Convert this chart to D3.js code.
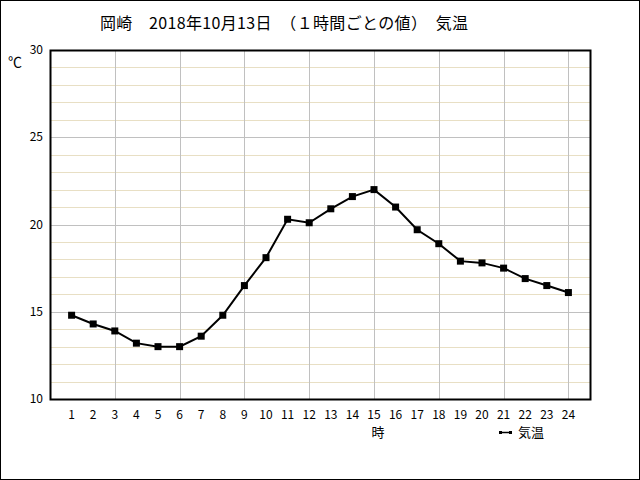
<!DOCTYPE html>
<html>
<head>
<meta charset="utf-8">
<script src="https://cdn.jsdelivr.net/npm/d3@7"></script>
<style>
body { margin: 0; background: #fff; }
svg text { font-family: "Noto Sans CJK JP", "DejaVu Sans", sans-serif; fill: #000; }
</style>
</head>
<body>
<svg id="chart" width="640" height="480"></svg>
<script>
// hourly temperature, Okazaki 2018-10-13
var hours = [1,2,3,4,5,6,7,8,9,10,11,12,13,14,15,16,17,18,19,20,21,22,23,24];
var temps = [14.8,14.3,13.9,13.2,13.0,13.0,13.6,14.8,16.5,18.1,20.3,20.1,20.9,21.6,22.0,21.0,19.7,18.9,17.9,17.8,17.5,16.9,16.5,16.1];
var yTicks = [10,15,20,25,30];
var titleText = "岡崎　2018年10月13日　（１時間ごとの値）　気温";

var margin = {top: 50, right: 50, bottom: 81, left: 50},
    width = 640 - margin.left - margin.right,
    height = 480 - margin.top - margin.bottom;

var svg = d3.select("svg#chart");

// outer frame
svg.append("rect").attr("x",0.5).attr("y",0.5).attr("width",639).attr("height",479)
   .attr("fill","#fff").attr("stroke","#000").attr("stroke-width",1);

var x = d3.scaleLinear().domain([0, 25]).range([margin.left, margin.left + width]);
var y = d3.scaleLinear().domain([10, 30]).range([margin.top + height, margin.top]);

var g = svg.append("g");

// minor horizontal grid (every 1 deg)
g.selectAll("line.minor").data(d3.range(11, 30).filter(function(d){ return d % 5 != 0; }))
  .enter().append("line").attr("class","minor")
  .attr("x1", x(0)).attr("x2", x(25))
  .attr("y1", function(d){ return Math.round(y(d)) + 0.5; })
  .attr("y2", function(d){ return Math.round(y(d)) + 0.5; })
  .attr("stroke","#e8dfc4").attr("stroke-width",1);

// major horizontal grid
g.selectAll("line.major").data([15,20,25])
  .enter().append("line").attr("class","major")
  .attr("x1", x(0)).attr("x2", x(25))
  .attr("y1", function(d){ return Math.round(y(d)) + 0.5; })
  .attr("y2", function(d){ return Math.round(y(d)) + 0.5; })
  .attr("stroke","#c0c0c0").attr("stroke-width",1);

// vertical grid every 3 hours
g.selectAll("line.vgrid").data(hours.filter(function(d){ return d % 3 == 0; }))
  .enter().append("line").attr("class","vgrid")
  .attr("x1", function(d){ return Math.round(x(d)) + 0.5; })
  .attr("x2", function(d){ return Math.round(x(d)) + 0.5; })
  .attr("y1", y(30)).attr("y2", y(10))
  .attr("stroke","#c0c0c0").attr("stroke-width",1);

// plot frame
g.append("rect").attr("x", x(0) + 0.5).attr("y", y(30) + 0.5)
  .attr("width", width).attr("height", height)
  .attr("fill","none").attr("stroke","#000").attr("stroke-width",2);

// y labels
svg.selectAll("text.ytick").data(yTicks).enter().append("text")
  .attr("class","ytick")
  .attr("x", 43).attr("y", function(d){ return y(d) + 4; })
  .attr("text-anchor","end").attr("font-size", 12)
  .text(function(d){ return d; });

// x labels
svg.selectAll("text.xtick").data(hours).enter().append("text")
  .attr("class","xtick")
  .attr("x", function(d){ return x(d); }).attr("y", 419)
  .attr("text-anchor","middle").attr("font-size", 12)
  .text(function(d){ return d; });

// units
svg.append("text").attr("x", 15).attr("y", 67).attr("text-anchor","middle")
  .attr("font-size", 14).text("℃");
svg.append("text").attr("x", x(15) + 4).attr("y", 437).attr("text-anchor","middle")
  .attr("font-size", 13).text("時");

// title
svg.append("text").attr("x", 100).attr("y", 29).attr("font-size", 16)
  .attr("textLength", 368).attr("lengthAdjust", "spacing")
  .text(titleText);

// line + markers
var line = d3.line().x(function(d, i){ return x(hours[i]); }).y(function(d){ return y(d); });
svg.append("path").datum(temps).attr("d", line)
  .attr("fill","none").attr("stroke","#000").attr("stroke-width",2);

svg.selectAll("rect.pt").data(temps).enter().append("rect")
  .attr("class","pt")
  .attr("x", function(d, i){ return x(hours[i]) - 3.5; })
  .attr("y", function(d){ return y(d) - 3.5; })
  .attr("width", 7).attr("height", 7).attr("fill","#000");

// legend
var leg = svg.append("g").attr("transform","translate(500,432)");
leg.append("line").attr("x1",0).attr("x2",11).attr("y1",0.5).attr("y2",0.5)
  .attr("stroke","#000").attr("stroke-width",1.5);
leg.append("rect").attr("x",-1).attr("y",-1).attr("width",3).attr("height",3).attr("fill","#000");
leg.append("rect").attr("x",9).attr("y",-1).attr("width",3).attr("height",3).attr("fill","#000");
leg.append("text").attr("x", 18).attr("y", 5).attr("font-size", 13).text("気温");
</script>
</body>
</html>
